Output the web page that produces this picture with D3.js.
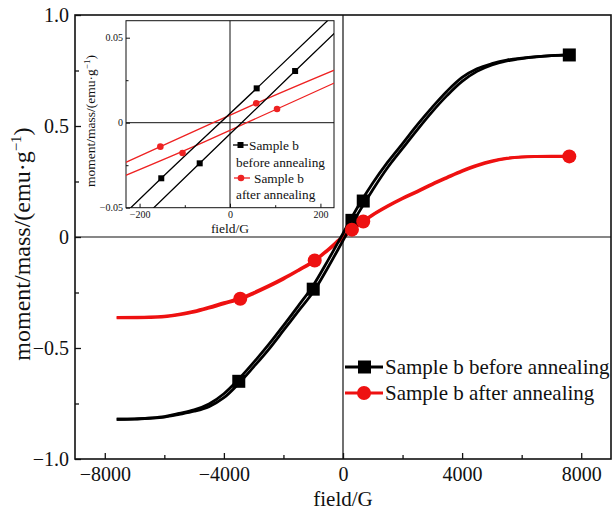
<!DOCTYPE html>
<html>
<head>
<meta charset="utf-8">
<script src="https://cdnjs.cloudflare.com/ajax/libs/d3/7.8.5/d3.min.js"></script>
<style>
  body { margin: 0; background: #fff; }
  text { font-family: "Liberation Serif", "Times New Roman", serif; fill: #111; }
</style>
</head>
<body>
<script>
// main plot data (field in G, moment/mass in emu/g), two branches of each loop
var blackUp = [[-7600,-0.821],[-7000,-0.8197],[-6500,-0.8155],[-6000,-0.809],[-5500,-0.795],[-5000,-0.779],
  [-4500,-0.752],[-4000,-0.706],[-3500,-0.64],[-3000,-0.565],[-2500,-0.485],[-2000,-0.399],[-1500,-0.31],
  [-1000,-0.218],[-500,-0.104],[0,0.016],[500,0.136],[1000,0.243],[1500,0.337],[2000,0.421],[2500,0.506],
  [3000,0.585],[3500,0.658],[4000,0.719],[4500,0.758],[5000,0.781],[5500,0.797],[6000,0.806],[6500,0.8125],
  [7000,0.8173],[7600,0.82]];
var blackDown = [[-7600,-0.821],[-7000,-0.8203],[-6500,-0.8165],[-6000,-0.811],[-5500,-0.799],[-5000,-0.785],
  [-4500,-0.764],[-4000,-0.724],[-3500,-0.66],[-3000,-0.585],[-2500,-0.507],[-2000,-0.421],[-1500,-0.334],
  [-1000,-0.248],[-500,-0.136],[0,-0.016],[500,0.104],[1000,0.213],[1500,0.313],[2000,0.399],[2500,0.484],
  [3000,0.565],[3500,0.638],[4000,0.701],[4500,0.746],[5000,0.775],[5500,0.793],[6000,0.804],[6500,0.8115],
  [7000,0.8167],[7600,0.82]];
var redUp = [[-7600,-0.362],[-6500,-0.36],[-6000,-0.356],[-5500,-0.347],[-5000,-0.334],[-4500,-0.316],
  [-4000,-0.296],[-3450,-0.275],[-3000,-0.25],[-2500,-0.219],[-2000,-0.185],[-1500,-0.148],[-950,-0.104],
  [-500,-0.055],[0,0.004],[500,0.056],[1000,0.102],[1500,0.141],[2000,0.176],[2500,0.207],[3000,0.24],
  [3500,0.27],[4000,0.299],[4500,0.324],[5000,0.343],[5500,0.355],[6000,0.361],[6500,0.363],[7600,0.364]];
var redDown = [[-7600,-0.364],[-6500,-0.363],[-6000,-0.36],[-5500,-0.351],[-5000,-0.339],[-4500,-0.321],
  [-4000,-0.301],[-3450,-0.28],[-3000,-0.255],[-2500,-0.224],[-2000,-0.19],[-1500,-0.152],[-950,-0.108],
  [-500,-0.06],[0,-0.004],[500,0.052],[1000,0.098],[1500,0.137],[2000,0.172],[2500,0.203],[3000,0.236],
  [3500,0.266],[4000,0.295],[4500,0.32],[5000,0.34],[5500,0.353],[6000,0.36],[6500,0.362],[7600,0.362]];
var blackMarks = [[-3500,-0.65],[-1000,-0.235],[300,0.075],[680,0.162],[7600,0.82]];
var redMarks = [[-3450,-0.278],[-950,-0.106],[300,0.033],[680,0.07],[7600,0.363]];
var xTicks = [-8000,-4000,0,4000,8000], xMinor = [-6000,-2000,2000,6000];
var yTicks = [-1,-0.5,0,0.5,1], yMinor = [-0.75,-0.25,0.25,0.75];

// inset data
var inBlackUp = [[-240,-0.0553],[-152,-0.0327],[59,0.0202],[240,0.0662]];
var inBlackDown = [[-240,-0.0684],[-67,-0.0239],[144,0.0304],[240,0.055]];
var inRedUp = [[-240,-0.0245],[-154,-0.0141],[-37,0],[58,0.0114],[240,0.032]];
var inRedDown = [[-240,-0.032],[-58,-0.0114],[37,0],[154,0.0141],[240,0.0245]];
var inBlackMarks = [[-152,-0.0327],[59,0.0202],[-67,-0.0239],[144,0.0304]];
var inRedMarks = [[-154,-0.0141],[58,0.0114],[-105,-0.0178],[104,0.0081]];
var inXTicks = [-200,0,200], inXMinor = [-100,100];
var inYTicks = [-0.05,0,0.05], inYMinor = [-0.025,0.025];

var W = 614, H = 511;
var svg = d3.select("body").append("svg").attr("width", W).attr("height", H);

var x = d3.scaleLinear().domain([-9000, 9000]).range([75, 611]);
var y = d3.scaleLinear().domain([-1, 1]).range([459, 15]);
var fmtY = function (d) { return d === 0 ? "0" : d3.format(".1f")(d); };

// zero lines
svg.append("line").attr("x1", x(0)).attr("x2", x(0)).attr("y1", y(1)).attr("y2", y(-1))
  .attr("stroke", "#111").attr("stroke-width", 1.2);
svg.append("line").attr("x1", x(-9000)).attr("x2", x(9000)).attr("y1", y(0)).attr("y2", y(0))
  .attr("stroke", "#111").attr("stroke-width", 1.2);

// axes
var gx = svg.append("g").attr("transform", "translate(0," + y(-1) + ")")
  .call(d3.axisBottom(x).tickValues(xTicks).tickSize(-6).tickPadding(8).tickFormat(d3.format("d")));
svg.append("g").attr("transform", "translate(0," + y(-1) + ")")
  .call(d3.axisBottom(x).tickValues(xMinor).tickSize(-4).tickFormat(""));
var gy = svg.append("g").attr("transform", "translate(" + x(-9000) + ",0)")
  .call(d3.axisLeft(y).tickValues(yTicks).tickSize(-6).tickPadding(6).tickFormat(fmtY));
svg.append("g").attr("transform", "translate(" + x(-9000) + ",0)")
  .call(d3.axisLeft(y).tickValues(yMinor).tickSize(-4).tickFormat(""));
svg.selectAll(".domain").remove();
svg.selectAll(".tick line").attr("stroke", "#111").attr("stroke-width", 1.3);
gx.selectAll("text").attr("font-size", 20).attr("fill", "#111");
gy.selectAll("text").attr("font-size", 20).attr("fill", "#111");

// frame
svg.append("rect").attr("x", x(-9000)).attr("y", y(1)).attr("width", x(9000) - x(-9000))
  .attr("height", y(-1) - y(1)).attr("fill", "none").attr("stroke", "#111").attr("stroke-width", 1.6);

// axis titles
svg.append("text").attr("x", (x(-9000) + x(9000)) / 2).attr("y", 506).attr("text-anchor", "middle")
  .attr("font-size", 21).text("field/G");
var yl = svg.append("text").attr("transform", "translate(30,244) rotate(-90)")
  .attr("text-anchor", "middle").attr("font-size", 24);
yl.append("tspan").text("moment/mass/(emu·g");
yl.append("tspan").attr("font-size", 15).attr("dy", -9).text("−1");
yl.append("tspan").attr("dy", 9).text(")");

// curves
var line = d3.line().x(function (d) { return x(d[0]); }).y(function (d) { return y(d[1]); })
  .curve(d3.curveCatmullRom.alpha(0.5));
[[redUp, "#ee1111"], [redDown, "#ee1111"], [blackUp, "#000"], [blackDown, "#000"]].forEach(function (s) {
  svg.append("path").attr("d", line(s[0])).attr("fill", "none").attr("stroke", s[1])
    .attr("stroke-width", 2.8).attr("stroke-linejoin", "round");
});
svg.selectAll(".bm").data(blackMarks).enter().append("rect").attr("class", "bm")
  .attr("x", function (d) { return x(d[0]) - 6.5; }).attr("y", function (d) { return y(d[1]) - 6.5; })
  .attr("width", 13).attr("height", 13).attr("fill", "#000");
svg.selectAll(".rm").data(redMarks).enter().append("circle").attr("class", "rm")
  .attr("cx", function (d) { return x(d[0]); }).attr("cy", function (d) { return y(d[1]); })
  .attr("r", 7).attr("fill", "#ee1111");

// legend
var legend = [["Sample b before annealing", "#000", "sq"], ["Sample b after annealing", "#ee1111", "ci"]];
legend.forEach(function (l, i) {
  var ly = 367 + i * 26;
  svg.append("line").attr("x1", 345).attr("x2", 383).attr("y1", ly).attr("y2", ly)
    .attr("stroke", l[1]).attr("stroke-width", 3);
  if (l[2] === "sq") svg.append("rect").attr("x", 358).attr("y", ly - 6.5).attr("width", 13).attr("height", 13).attr("fill", l[1]);
  else svg.append("circle").attr("cx", 364).attr("cy", ly).attr("r", 7).attr("fill", l[1]);
  svg.append("text").attr("x", 385).attr("y", ly).attr("dy", "0.35em").attr("font-size", 21).text(l[0]);
});

// ---- inset ----
var ix = d3.scaleLinear().domain([-230, 230]).range([126, 334]);
var iy = d3.scaleLinear().domain([-0.05, 0.06]).range([207.7, 20.7]);
var ins = svg.append("g");
ins.append("rect").attr("x", ix(-230)).attr("y", iy(0.06)).attr("width", ix(230) - ix(-230))
  .attr("height", iy(-0.05) - iy(0.06)).attr("fill", "#fff");
svg.append("clipPath").attr("id", "iclip").append("rect").attr("x", ix(-230)).attr("y", iy(0.06))
  .attr("width", ix(230) - ix(-230)).attr("height", iy(-0.05) - iy(0.06));
ins.append("line").attr("x1", ix(0)).attr("x2", ix(0)).attr("y1", iy(0.06)).attr("y2", iy(-0.05)).attr("stroke", "#111").attr("stroke-width", 1);
ins.append("line").attr("x1", ix(-230)).attr("x2", ix(230)).attr("y1", iy(0)).attr("y2", iy(0)).attr("stroke", "#111").attr("stroke-width", 1);

ins.append("g").attr("transform", "translate(0," + iy(-0.05) + ")")
  .call(d3.axisBottom(ix).tickValues(inXTicks).tickSize(-4).tickPadding(3));
ins.append("g").attr("transform", "translate(0," + iy(-0.05) + ")")
  .call(d3.axisBottom(ix).tickValues(inXMinor).tickSize(-2.5).tickFormat(""));
ins.append("g").attr("transform", "translate(" + ix(-230) + ",0)")
  .call(d3.axisLeft(iy).tickValues(inYTicks).tickSize(-4).tickPadding(3).tickFormat(function (d) { return d === 0 ? "0" : d3.format(".2f")(d); }));
ins.append("g").attr("transform", "translate(" + ix(-230) + ",0)")
  .call(d3.axisLeft(iy).tickValues(inYMinor).tickSize(-2.5).tickFormat(""));
ins.selectAll(".domain").remove();
ins.selectAll(".tick line").attr("stroke", "#111");
ins.selectAll(".tick text").attr("font-size", 10).attr("fill", "#222");
ins.append("rect").attr("x", ix(-230)).attr("y", iy(0.06)).attr("width", ix(230) - ix(-230))
  .attr("height", iy(-0.05) - iy(0.06)).attr("fill", "none").attr("stroke", "#111").attr("stroke-width", 1);

ins.append("text").attr("x", ix(0)).attr("y", 233).attr("text-anchor", "middle").attr("font-size", 13.5).text("field/G");
var iyl = ins.append("text").attr("transform", "translate(95,121) rotate(-90)")
  .attr("text-anchor", "middle").attr("font-size", 13.5);
iyl.append("tspan").text("moment/mass/(emu·g");
iyl.append("tspan").attr("font-size", 9).attr("dy", -5).text("−1");
iyl.append("tspan").attr("dy", 5).text(")");

var iline = d3.line().x(function (d) { return ix(d[0]); }).y(function (d) { return iy(d[1]); }).curve(d3.curveMonotoneX);
var ic = ins.append("g").attr("clip-path", "url(#iclip)");
[[inRedUp, "#ee2222"], [inRedDown, "#ee2222"], [inBlackUp, "#000"], [inBlackDown, "#000"]].forEach(function (s) {
  ic.append("path").attr("d", iline(s[0])).attr("fill", "none").attr("stroke", s[1]).attr("stroke-width", 1.3);
});
ic.selectAll(".ibm").data(inBlackMarks).enter().append("rect").attr("class", "ibm")
  .attr("x", function (d) { return ix(d[0]) - 3; }).attr("y", function (d) { return iy(d[1]) - 3; })
  .attr("width", 6).attr("height", 6).attr("fill", "#000");
ic.selectAll(".irm").data(inRedMarks).enter().append("circle").attr("class", "irm")
  .attr("cx", function (d) { return ix(d[0]); }).attr("cy", function (d) { return iy(d[1]); })
  .attr("r", 3.3).attr("fill", "#ee2222");

// inset legend
ins.append("line").attr("x1", 233).attr("x2", 248).attr("y1", 145).attr("y2", 145).attr("stroke", "#000").attr("stroke-width", 1.3);
ins.append("rect").attr("x", 237.5).attr("y", 142).attr("width", 6).attr("height", 6).attr("fill", "#000");
ins.append("text").attr("x", 249).attr("y", 145).attr("dy", "0.35em").attr("font-size", 13.3).text("Sample b");
ins.append("text").attr("x", 236).attr("y", 162).attr("dy", "0.35em").attr("font-size", 13.3).text("before annealing");
ins.append("line").attr("x1", 234).attr("x2", 250).attr("y1", 178).attr("y2", 178).attr("stroke", "#ee2222").attr("stroke-width", 1.3);
ins.append("circle").attr("cx", 241).attr("cy", 178).attr("r", 3.3).attr("fill", "#ee2222");
ins.append("text").attr("x", 254).attr("y", 178).attr("dy", "0.35em").attr("font-size", 13.3).text("Sample b");
ins.append("text").attr("x", 236).attr("y", 194).attr("dy", "0.35em").attr("font-size", 13.3).text("after annealing");
</script>
</body>
</html>
